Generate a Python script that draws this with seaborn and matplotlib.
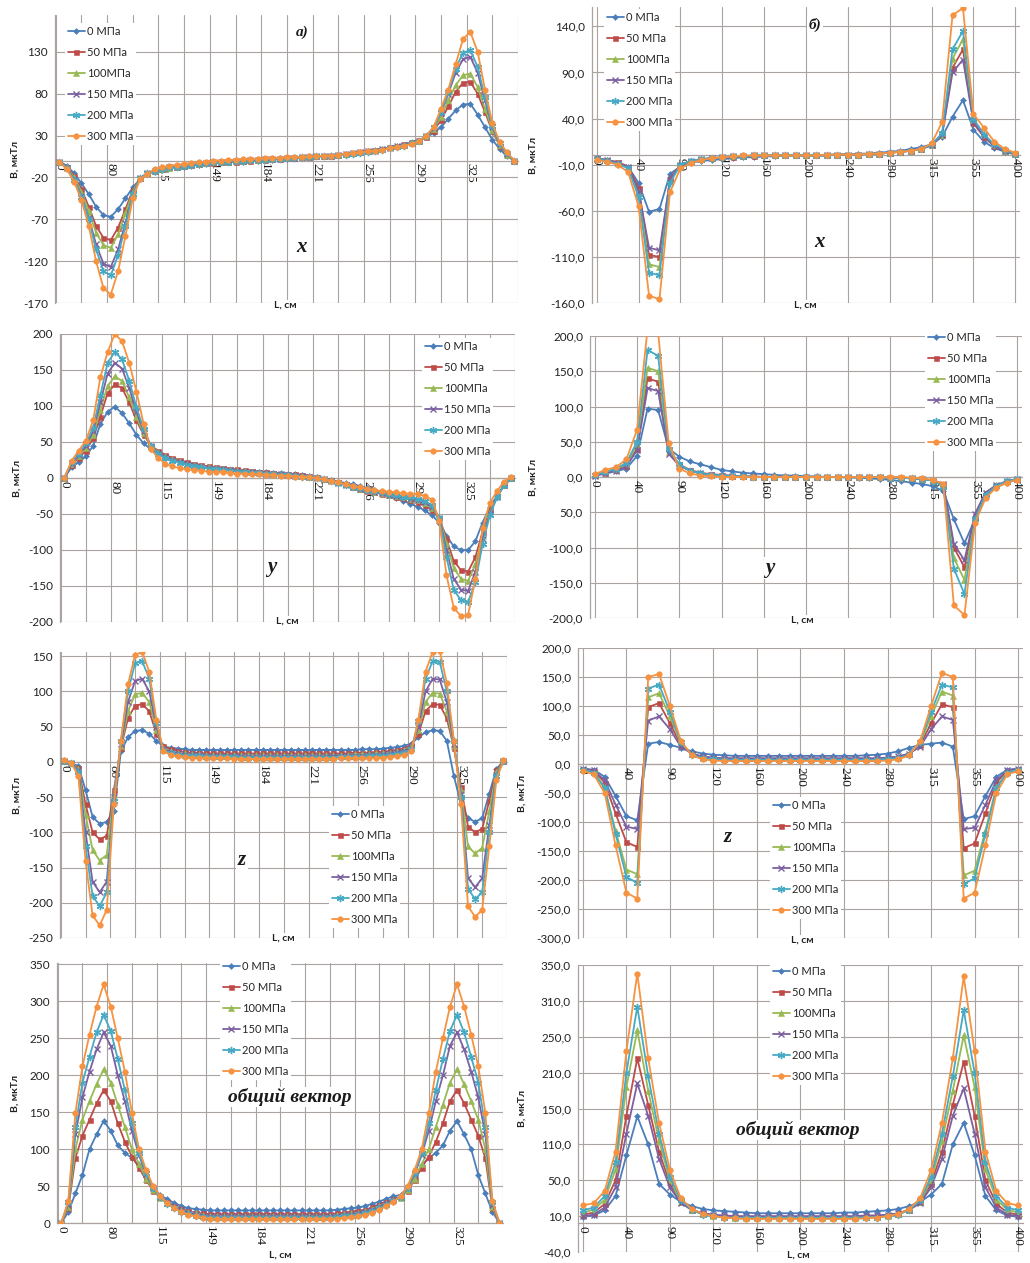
import numpy as np
import pandas as pd
import matplotlib
matplotlib.use("Agg")
import matplotlib.pyplot as plt
import seaborn as sns

# ---------------- data ----------------
names = ["0 МПа", "50 МПа", "100МПа", "150 МПа", "200 МПа", "300 МПа"]
left_labels = ["0", "80", "115", "149", "184", "221", "256", "290", "325"]
right_labels = ["0", "40", "90", "120", "160", "200", "240", "280", "315", "355", "400"]

# a) x component (63 points)
xa_0 = [-1, -6, -15, -27, -40, -55, -65, -67, -58, -45, -32, -22, -16,
        -13, -11, -9, -8, -7, -6, -5, -4, -3, -2,
        -2, -1, -1, 0, 0, 1, 1, 2, 2, 3,
        3, 4, 5, 5, 6, 7, 8, 9, 10, 11,
        12, 14, 15, 17, 19, 21, 24,
        28, 33, 40, 50, 60, 67, 68, 55, 40, 25, 14, 5, 0]
xa_50 = [-1, -7, -18, -34, -55, -78, -92, -95, -80, -58, -35, -21, -15,
         -12, -10, -8, -7, -6, -5, -4, -3, -3, -2,
         -1, -1, 0, 0, 1, 1, 2, 2, 3, 3,
         4, 4, 5, 6, 6, 7, 8, 9, 10, 12,
         13, 14, 16, 18, 20, 22, 25,
         28, 36, 48, 65, 82, 93, 94, 80, 58, 35, 18, 7, 0]
xa_100 = [-1, -8, -20, -37, -60, -86, -101, -104, -88, -63, -37, -21, -15,
          -12, -10, -9, -7, -6, -5, -4, -3, -2, -2,
          -1, 0, 0, 1, 1, 2, 2, 3, 3, 4,
          4, 5, 5, 6, 7, 7, 8, 9, 10, 11,
          13, 14, 16, 17, 19, 22, 24,
          29, 38, 52, 72, 90, 102, 104, 88, 62, 37, 19, 7, 0]
xa_150 = [-1, -9, -22, -42, -68, -100, -123, -127, -106, -74, -40, -21, -15,
          -12, -10, -8, -7, -6, -5, -4, -3, -2, -1,
          -1, 0, 0, 1, 1, 2, 2, 2, 3, 3,
          4, 4, 5, 6, 6, 7, 8, 9, 10, 11,
          12, 14, 15, 17, 19, 21, 24,
          29, 39, 57, 80, 105, 121, 124, 105, 72, 40, 20, 8, 0]
xa_200 = [-1, -9, -23, -43, -70, -106, -132, -137, -113, -78, -40, -21, -15,
          -12, -10, -8, -7, -6, -5, -4, -3, -2, -2,
          -1, 0, 0, 1, 1, 1, 2, 2, 3, 3,
          4, 4, 5, 5, 6, 7, 7, 8, 9, 10,
          12, 13, 15, 16, 18, 21, 23,
          30, 40, 58, 82, 110, 129, 132, 112, 76, 42, 21, 9, 0]
xa_300 = [-2, -10, -25, -47, -78, -120, -152, -160, -132, -90, -45, -22, -16,
          -10, -8, -6, -5, -4, -3, -2, -1, 0, 0,
          1, 1, 2, 2, 2, 3, 3, 3, 4, 4,
          4, 5, 5, 6, 6, 7, 8, 9, 10, 11,
          12, 13, 15, 16, 18, 20, 23,
          30, 40, 62, 85, 115, 145, 154, 130, 85, 45, 22, 10, 0]

# a) y component
ya_0 = [0, 15, 22, 30, 45, 75, 92, 99, 90, 76, 60, 48, 40,
        33, 28, 25, 22, 20, 18, 16, 14, 13, 12,
        11, 10, 9, 9, 8, 8, 7, 7, 6, 5,
        4, 3, 1, -1, -3, -5, -7, -9, -11, -14,
        -17, -20, -24, -28, -32, -36, -40,
        -45, -52, -62, -80, -95, -100, -100, -88, -62, -40, -25, -10, 0]
ya_50 = [0, 18, 28, 38, 55, 85, 118, 130, 125, 105, 80, 60, 45,
         38, 32, 28, 25, 22, 20, 18, 16, 15, 14,
         13, 12, 11, 10, 9, 8, 7, 6, 5, 5,
         4, 3, 1, -1, -3, -6, -9, -12, -15, -18,
         -20, -22, -24, -26, -28, -30, -33,
         -38, -45, -55, -85, -115, -128, -130, -110, -75, -45, -25, -10, 0]
ya_100 = [0, 20, 30, 42, 60, 95, 128, 141, 135, 112, 85, 62, 45,
          36, 30, 26, 23, 20, 18, 16, 15, 14, 13,
          12, 11, 10, 9, 8, 7, 6, 6, 5, 4,
          3, 2, 1, -1, -3, -6, -9, -12, -15, -17,
          -19, -21, -23, -25, -27, -29, -31,
          -35, -42, -55, -90, -125, -140, -143, -120, -80, -48, -25, -10, 0]
ya_150 = [0, 20, 32, 45, 65, 105, 145, 160, 152, 125, 92, 65, 45,
          35, 29, 25, 22, 19, 17, 15, 14, 13, 12,
          11, 10, 9, 8, 7, 6, 6, 5, 4, 3,
          3, 2, 0, -2, -4, -7, -10, -13, -15, -17,
          -19, -21, -23, -25, -27, -29, -31,
          -34, -40, -55, -100, -140, -155, -157, -130, -85, -50, -26, -10, 0]
ya_200 = [0, 22, 34, 48, 70, 115, 160, 175, 165, 135, 98, 68, 45,
          34, 28, 24, 21, 18, 16, 15, 13, 12, 11,
          10, 9, 8, 7, 7, 6, 5, 4, 4, 3,
          2, 1, 0, -2, -4, -7, -10, -12, -14, -16,
          -18, -20, -22, -24, -26, -27, -29,
          -32, -38, -55, -110, -155, -170, -172, -145, -92, -52, -27, -10, 0]
ya_300 = [0, 24, 38, 52, 80, 140, 175, 200, 190, 160, 120, 75, 40,
          28, 20, 16, 14, 12, 11, 10, 9, 8, 8,
          7, 6, 6, 5, 5, 4, 4, 3, 3, 2,
          2, 1, 0, -2, -4, -6, -9, -11, -13, -15,
          -17, -18, -19, -20, -21, -22, -22,
          -25, -30, -60, -135, -180, -192, -190, -140, -70, -35, -18, -5, 2]

# a) z component
za_0 = [1, -2, -6, -40, -78, -88, -85, -70, 15, 35, 44, 45, 40, 30, 22,
        20, 19, 18, 17, 17, 17, 17, 17, 17, 17,
        17, 17, 17, 17, 17, 17, 17, 17, 17, 17,
        17, 17, 17, 17, 17, 17, 17, 18, 18, 18,
        19, 20, 21, 23,
        26, 35, 42, 45, 44, 30, -20, -60, -80, -85, -80, -45, -10, 1]
za_50 = [1, -2, -8, -60, -100, -110, -105, -40, 20, 62, 80, 82, 72, 40, 22,
         18, 16, 14, 13, 13, 12, 12, 12, 12, 12,
         12, 12, 12, 12, 12, 12, 12, 12, 12, 12,
         12, 12, 12, 12, 12, 12, 13, 13, 13, 14,
         14, 15, 17, 19,
         24, 40, 72, 82, 81, 62, 20, -35, -92, -100, -95, -55, -12, 1]
za_100 = [1, -2, -10, -75, -125, -140, -132, -45, 22, 72, 96, 98, 85, 45, 20,
          15, 13, 12, 11, 11, 10, 10, 10, 10, 10,
          10, 10, 10, 10, 10, 10, 10, 10, 10, 10,
          10, 10, 10, 10, 10, 10, 11, 11, 11, 12,
          12, 13, 15, 17,
          22, 45, 85, 98, 97, 72, 22, -40, -120, -130, -122, -70, -15, 1]
za_150 = [1, -2, -12, -100, -170, -185, -170, -50, 25, 85, 115, 118, 100, 50, 18,
          14, 12, 11, 10, 10, 9, 9, 9, 9, 9,
          8, 8, 8, 8, 8, 8, 8, 8, 8, 8,
          8, 8, 8, 9, 9, 9, 9, 9, 10, 10,
          11, 12, 14, 16,
          20, 50, 100, 118, 117, 85, 25, -45, -165, -178, -165, -90, -18, 1]
za_200 = [1, -2, -15, -120, -190, -205, -185, -55, 30, 100, 140, 143, 118, 55, 17,
          12, 10, 9, 8, 8, 7, 7, 7, 7, 7,
          6, 6, 6, 6, 6, 6, 6, 6, 6, 6,
          6, 6, 6, 6, 7, 7, 7, 7, 8, 8,
          9, 10, 11, 13,
          18, 58, 118, 143, 142, 100, 30, -50, -180, -195, -185, -100, -20, 1]
za_300 = [2, -2, -20, -140, -218, -232, -210, -60, 30, 110, 152, 156, 128, 60, 15,
          10, 8, 7, 6, 6, 5, 5, 5, 5, 4,
          4, 4, 4, 4, 4, 4, 4, 4, 4, 4,
          4, 4, 4, 4, 5, 5, 5, 5, 5, 6,
          6, 7, 8, 10,
          15, 60, 128, 156, 158, 112, 30, -60, -205, -220, -210, -120, -25, 2]

# a) total vector
ta_0 = [0, 15, 40, 65, 100, 120, 138, 125, 105, 95, 88, 78, 62, 48, 38,
        32, 27, 23, 20, 19, 18, 17, 17, 17, 17,
        17, 17, 17, 17, 17, 17, 17, 17, 17, 17,
        17, 17, 17, 17, 18, 19, 20, 21, 23, 26,
        29, 33, 36,
        38, 48, 62, 78, 88, 95, 105, 125, 138, 120, 100, 65, 40, 15, 0]
ta_50 = [0, 20, 88, 118, 140, 162, 180, 165, 135, 110, 90, 75, 58, 44, 35,
         28, 23, 19, 16, 14, 13, 12, 12, 12, 12,
         12, 12, 12, 12, 12, 12, 12, 12, 12, 12,
         12, 12, 12, 12, 13, 14, 15, 16, 18, 21,
         25, 29, 32,
         35, 44, 58, 75, 90, 110, 135, 165, 180, 162, 140, 118, 88, 20, 0]
ta_100 = [0, 22, 100, 140, 165, 188, 208, 190, 160, 130, 100, 80, 60, 45, 34,
          27, 22, 18, 15, 13, 11, 10, 10, 10, 10,
          10, 10, 10, 10, 10, 10, 10, 10, 10, 10,
          10, 10, 10, 10, 11, 12, 13, 14, 16, 19,
          23, 27, 31,
          34, 45, 60, 80, 100, 130, 160, 190, 208, 188, 165, 140, 100, 22, 0]
ta_150 = [0, 25, 120, 170, 205, 235, 258, 240, 200, 165, 125, 92, 66, 47, 35,
          27, 21, 17, 14, 12, 10, 9, 9, 9, 9,
          9, 9, 9, 9, 9, 9, 9, 9, 9, 9,
          9, 9, 9, 9, 10, 11, 12, 13, 15, 18,
          22, 27, 31,
          35, 47, 66, 92, 125, 165, 200, 240, 258, 235, 205, 170, 120, 25, 0]
ta_200 = [0, 28, 130, 190, 225, 258, 282, 260, 222, 180, 135, 95, 68, 48, 35,
          26, 20, 15, 12, 10, 8, 7, 7, 7, 7,
          7, 7, 7, 7, 7, 7, 7, 7, 7, 7,
          7, 7, 7, 7, 8, 9, 10, 11, 13, 16,
          20, 25, 30,
          35, 48, 68, 95, 135, 180, 222, 260, 282, 258, 225, 190, 130, 28, 0]
ta_300 = [0, 30, 149, 212, 255, 293, 323, 293, 250, 205, 149, 100, 72, 50, 36,
          27, 20, 15, 11, 9, 7, 6, 5, 5, 5,
          5, 5, 5, 5, 5, 5, 5, 5, 5, 5,
          5, 5, 5, 5, 6, 7, 8, 9, 11, 14,
          18, 23, 29,
          36, 50, 72, 100, 149, 205, 250, 293, 323, 293, 255, 212, 149, 30, 0]

# б) x component (41 points)
xb_0 = [-3, -5, -8, -12, -30, -61, -58, -20, -12, -8,
        -6, -5, -4, -3, -2, -2, -1, -1, 0, 0,
        0, 0, 1, 1, 1, 2, 2, 3, 4, 5,
        7, 9, 12, 20, 42, 60, 28, 15, 8, 4, 1]
xb_50 = [-3, -5, -7, -12, -35, -108, -110, -25, -10, -6,
         -4, -3, -2, -2, -1, -1, 0, 0, 0, 0,
         0, 0, 0, 1, 1, 1, 2, 2, 3, 4,
         5, 7, 11, 22, 95, 115, 35, 20, 10, 5, 2]
xb_100 = [-4, -5, -8, -13, -40, -118, -121, -28, -10, -6,
          -4, -3, -2, -1, -1, 0, 0, 0, 0, 0,
          0, 0, 0, 1, 1, 1, 2, 2, 3, 4,
          5, 7, 11, 22, 105, 126, 38, 22, 11, 5, 2]
xb_150 = [-4, -5, -8, -13, -38, -100, -103, -27, -10, -6,
          -4, -3, -2, -1, -1, 0, 0, 0, 0, 0,
          0, 0, 0, 1, 1, 1, 2, 2, 3, 4,
          5, 7, 11, 22, 90, 104, 36, 21, 10, 5, 2]
xb_200 = [-4, -6, -9, -14, -45, -127, -130, -30, -10, -6,
          -4, -3, -2, -1, -1, 0, 0, 0, 0, 0,
          0, 0, 0, 1, 1, 1, 2, 2, 3, 4,
          5, 7, 12, 24, 115, 135, 40, 23, 12, 6, 2]
xb_300 = [-5, -7, -10, -18, -55, -152, -156, -40, -14, -8,
          -5, -3, -2, -1, 0, 0, 0, 0, 0, 0,
          0, 0, 1, 1, 1, 1, 2, 2, 3, 4,
          5, 7, 13, 36, 152, 160, 45, 30, 15, 7, 3]

# б) y component
yb_0 = [2, 5, 8, 12, 30, 97, 95, 40, 29, 22,
        18, 14, 10, 8, 6, 5, 4, 3, 2, 2,
        1, 1, 0, 0, -1, -1, -2, -3, -4, -6,
        -8, -10, -13, -20, -60, -94, -60, -25, -15, -8, -4]
yb_50 = [3, 6, 10, 16, 40, 140, 135, 35, 18, 10,
         6, 4, 3, 2, 1, 1, 0, 0, 0, 0,
         0, 0, 0, 0, 0, 0, 0, 0, -1, -1,
         -2, -3, -5, -10, -100, -128, -55, -22, -12, -6, -3]
yb_100 = [3, 7, 11, 18, 45, 155, 150, 36, 17, 9,
          5, 3, 2, 1, 1, 0, 0, 0, 0, 0,
          0, 0, 0, 0, 0, 0, 0, 0, -1, -1,
          -2, -3, -5, -12, -115, -146, -58, -24, -12, -6, -3]
yb_150 = [2, 5, 9, 15, 38, 126, 122, 33, 16, 9,
          5, 3, 2, 1, 1, 0, 0, 0, 0, 0,
          0, 0, 0, 0, 0, 0, 0, 0, -1, -1,
          -2, -3, -5, -10, -95, -118, -52, -22, -12, -6, -3]
yb_200 = [3, 7, 12, 20, 50, 180, 172, 40, 18, 9,
          5, 3, 2, 1, 1, 0, 0, 0, 0, 0,
          0, 0, 0, 0, 0, 0, 0, 0, -1, -1,
          -2, -3, -5, -14, -130, -166, -60, -25, -13, -6, -3]
yb_300 = [4, 10, 14, 25, 67, 210, 205, 48, 12, 5,
          2, 1, 0, 0, 0, 0, 0, 0, 0, 0,
          0, 0, 0, 0, 0, 0, 0, 0, 0, 0,
          -1, -2, -4, -10, -182, -196, -65, -30, -15, -8, -4]

# б) z component
zb_0 = [-8, -10, -22, -55, -90, -97, 35, 38, 33, 28,
        22, 18, 16, 15, 14, 14, 14, 14, 14, 14,
        14, 14, 14, 14, 14, 14, 15, 16, 18, 22,
        28, 33, 35, 37, 30, -95, -90, -55, -22, -10, -8]
zb_50 = [-8, -12, -32, -85, -135, -143, 98, 105, 70, 33,
         18, 12, 10, 9, 9, 9, 9, 9, 9, 9,
         9, 9, 9, 9, 9, 9, 9, 9, 10, 12,
         18, 33, 70, 103, 98, -145, -137, -85, -32, -12, -8]
zb_100 = [-9, -14, -40, -115, -182, -190, 115, 122, 82, 36,
          17, 11, 9, 8, 8, 8, 8, 8, 8, 8,
          8, 8, 8, 8, 8, 8, 8, 8, 9, 11,
          17, 36, 82, 125, 118, -192, -184, -115, -40, -14, -9]
zb_150 = [-8, -11, -28, -70, -108, -112, 75, 82, 60, 30,
          18, 13, 11, 10, 10, 10, 10, 10, 10, 10,
          10, 10, 10, 10, 10, 10, 10, 10, 11, 13,
          18, 30, 60, 82, 76, -112, -110, -70, -28, -11, -8]
zb_200 = [-10, -15, -42, -120, -195, -205, 130, 137, 90, 38,
          16, 10, 8, 7, 7, 7, 7, 7, 7, 7,
          7, 7, 7, 7, 7, 7, 7, 7, 8, 10,
          16, 38, 90, 137, 132, -207, -197, -120, -42, -15, -10]
zb_300 = [-12, -18, -50, -140, -222, -232, 150, 155, 100, 40,
          15, 8, 6, 5, 5, 5, 5, 5, 5, 5,
          5, 5, 5, 5, 5, 5, 5, 5, 6, 8,
          15, 40, 100, 157, 150, -232, -222, -140, -50, -18, -12]

# б) total vector
tb_0 = [9, 11, 18, 38, 95, 149, 110, 55, 40, 30, 24, 20, 18, 17, 16,
        15, 14, 14, 14, 14, 14, 14, 14, 14, 15, 15,
        16, 17, 18, 20, 24, 30, 40, 55, 110, 140, 95, 38, 18, 11, 9]
tb_50 = [12, 15, 27, 60, 150, 230, 165, 100, 55, 30, 19, 14, 11, 10, 9,
         9, 9, 9, 9, 9, 9, 9, 9, 9, 9, 9,
         10, 10, 11, 14, 19, 30, 55, 100, 165, 225, 150, 60, 27, 15, 12]
tb_100 = [15, 19, 33, 75, 190, 269, 185, 115, 60, 30, 18, 13, 10, 9, 8,
          8, 8, 8, 8, 8, 8, 8, 8, 8, 8, 8,
          9, 9, 10, 13, 18, 30, 60, 115, 185, 262, 190, 75, 33, 19, 15]
tb_150 = [10, 12, 22, 50, 125, 195, 150, 90, 50, 28, 19, 14, 12, 11, 10,
          10, 10, 10, 10, 10, 10, 10, 10, 10, 10, 10,
          11, 11, 12, 14, 19, 28, 50, 90, 150, 188, 125, 50, 22, 12, 10]
tb_200 = [18, 22, 38, 85, 210, 302, 205, 125, 65, 32, 19, 12, 10, 8, 7,
          7, 7, 7, 7, 7, 7, 7, 7, 7, 7, 7,
          8, 8, 10, 12, 19, 32, 65, 125, 205, 297, 210, 85, 38, 22, 18]
tb_300 = [25, 28, 45, 100, 240, 348, 230, 140, 74, 35, 20, 13, 10, 8, 7,
          6, 6, 6, 6, 6, 6, 6, 6, 6, 6, 6,
          7, 8, 10, 13, 20, 35, 74, 140, 230, 344, 240, 100, 45, 28, 25]

# ---------------- style ----------------
sns.set_style("white")
plt.rcParams["font.family"] = ["Lato", "Noto Sans", "DejaVu Sans"]
plt.rcParams["axes.unicode_minus"] = False

colors = ["#4A7EBB", "#BE4B48", "#98B954", "#7D60A0", "#46AAC5", "#F69240"]
markers = ["D", "s", "^", "x", (6, 2, 0), "o"]
msizes = [3.0, 3.6, 4.2, 4.2, 5.2, 4.0]
GRID = "#aaa3a0"
SERIF = ["Liberation Serif", "DejaVu Serif"]

W, H = 1030, 1263
fig = plt.figure(figsize=(W / 100, H / 100), dpi=100)
fig.patch.set_facecolor("white")


def comma(v):
    return f"{v:.1f}".replace(".", ",")


def panel(rect, series, side, ylim, yticks, ylabels, leg_xy, ylab_x, lcm_xy, notes):
    l, t, r, b = rect
    ax = fig.add_axes([l / W, 1 - b / H, (r - l) / W, (b - t) / H])
    ax.set_facecolor("white")
    for vals, name, col, mk, ms in zip(series, names, colors, markers, msizes):
        df = pd.DataFrame({"L": np.arange(len(vals)), "B": vals})
        line_art = mk == "x" or isinstance(mk, tuple)
        sns.lineplot(data=df, x="L", y="B", ax=ax, color=col, linewidth=1.3,
                     marker=mk, markersize=ms, markerfacecolor=col,
                     markeredgecolor=col, markeredgewidth=1.0 if line_art else 0.4,
                     errorbar=None, legend=False, zorder=3)
    handles = list(ax.lines[:6])
    ax.set_xlabel("")
    ax.set_ylabel("")

    # axis line at B = 0 (moving the spine resets ticks, so do it first)
    for s in ("top", "right"):
        ax.spines[s].set_visible(False)
    for s in ("left", "bottom"):
        ax.spines[s].set_color(GRID)
        ax.spines[s].set_linewidth(0.9)
    ax.spines["bottom"].set_position(("data", 0))

    if side == "L":
        xt = [0, 7, 14, 21, 28, 35, 42, 49, 56]
        xl = left_labels
        xgrid = [-0.5 + 3.5 * k for k in range(19)]
        ax.set_xlim(-0.6, 62.5)
    else:
        xt = list(range(0, 41, 4))
        xl = right_labels
        xgrid = xt
        ax.set_xlim(-0.45, 40.45)
    for gx in xgrid:
        ax.axvline(gx, color=GRID, lw=0.8, zorder=0.5)
    ax.set_ylim(*ylim)
    ax.set_yticks(yticks)
    ax.set_yticklabels(ylabels)
    ax.yaxis.grid(True, color=GRID, lw=0.8, zorder=0.5)
    ax.set_axisbelow(True)
    ax.set_xticks(xt)
    ax.set_xticklabels(xl)
    ax.tick_params(axis="x", length=0, pad=2, labelrotation=-90, labelsize=9.5,
                   labelcolor="#1a1a1a", labelfontfamily="Liberation Serif")
    ax.tick_params(axis="y", length=3, width=0.8, color=GRID, labelsize=8.5,
                   pad=2, labelcolor="#222222")
    for lab in ax.get_xticklabels():
        lab.set_rotation(-90)
        lab.set_fontfamily(SERIF)

    lx, ly = leg_xy
    leg = ax.legend(handles=handles, labels=names, loc="upper left",
                    bbox_to_anchor=((lx - 3) / W, 1 - (ly - 9) / H),
                    bbox_transform=fig.transFigure, frameon=True, fontsize=8,
                    handlelength=1.55, handletextpad=0.15, labelspacing=0.9,
                    borderpad=0.25, borderaxespad=0, framealpha=1, fancybox=False)
    leg.get_frame().set_edgecolor("none")
    leg.get_frame().set_facecolor("white")
    leg.set_zorder(6)

    fig.text(ylab_x / W, 1 - ((t + b) / 2) / H, "B, мкТл", rotation=90,
             ha="center", va="center", fontsize=7.5, fontweight="bold", color="#222222")
    fig.text(lcm_xy[0] / W, 1 - lcm_xy[1] / H, "L, см", ha="center", va="center",
             fontsize=7.5, fontweight="bold", color="#222222",
             bbox=dict(facecolor="white", edgecolor="none", pad=0.5))
    for s, x, y, fs in notes:
        fig.text(x / W, 1 - y / H, s, ha="center", va="center", fontsize=fs,
                 fontfamily=SERIF, fontstyle="italic", fontweight="bold", color="#1a1a1a",
                 bbox=dict(facecolor="white", edgecolor="none", pad=1.0))
    return ax


# row 1
panel((55, 15, 518, 303), [xa_0, xa_50, xa_100, xa_150, xa_200, xa_300], "L",
      (-170, 174), list(range(-170, 131, 50)), [str(v) for v in range(-170, 131, 50)],
      (68, 32), 15, (285, 305), [("a)", 302, 32, 11), ("x", 302, 247, 15)])
panel((592, 7, 1020, 303), [xb_0, xb_50, xb_100, xb_150, xb_200, xb_300], "R",
      (-160, 161), list(range(-160, 141, 50)), [comma(v) for v in range(-160, 141, 50)],
      (607, 18), 533, (805, 305), [("б)", 815, 25, 11), ("x", 820, 242, 15)])
# row 2
panel((60, 334, 515, 622), [ya_0, ya_50, ya_100, ya_150, ya_200, ya_300], "L",
      (-200, 200), list(range(-200, 201, 50)), [str(v) for v in range(-200, 201, 50)],
      (425, 347), 17, (287, 621), [("y", 272, 567, 15)])
yb_ticks = list(range(-200, 201, 50))
yb_labels = [comma(v) for v in yb_ticks]
yb_labels[yb_ticks.index(-50)] = "50,0"
panel((590, 336, 1022, 618), [yb_0, yb_50, yb_100, yb_150, yb_200, yb_300], "R",
      (-200, 200), yb_ticks, yb_labels,
      (928, 338), 533, (802, 620), [("y", 770, 568, 15)])
# row 3
panel((60, 652, 507, 938), [za_0, za_50, za_100, za_150, za_200, za_300], "L",
      (-250, 156), list(range(-250, 151, 50)), [str(v) for v in range(-250, 151, 50)],
      (332, 815), 17, (283, 938), [("z", 242, 860, 15)])
panel((578, 648, 1023, 938), [zb_0, zb_50, zb_100, zb_150, zb_200, zb_300], "R",
      (-300, 200), list(range(-300, 201, 50)), [comma(v) for v in range(-300, 201, 50)],
      (773, 806), 522, (802, 940), [("z", 728, 837, 15)])
# row 4
panel((57, 963, 503, 1223), [ta_0, ta_50, ta_100, ta_150, ta_200, ta_300], "L",
      (0, 352), list(range(0, 351, 50)), [str(v) for v in range(0, 351, 50)],
      (223, 967), 15, (280, 1255), [("общий вектор", 290, 1097, 14)])
tb_ticks = list(range(-40, 361, 50))
tb_labels = ["-40,0", "10,0", "50,0", "110,0", "150,0", "210,0", "250,0", "310,0", "350,0"]
panel((578, 965, 1023, 1252), [tb_0, tb_50, tb_100, tb_150, tb_200, tb_300], "R",
      (-40, 360), tb_ticks, tb_labels,
      (773, 972), 522, (798, 1255), [("общий вектор", 798, 1130, 14)])

fig.savefig("out.png", dpi=100, facecolor="white")
